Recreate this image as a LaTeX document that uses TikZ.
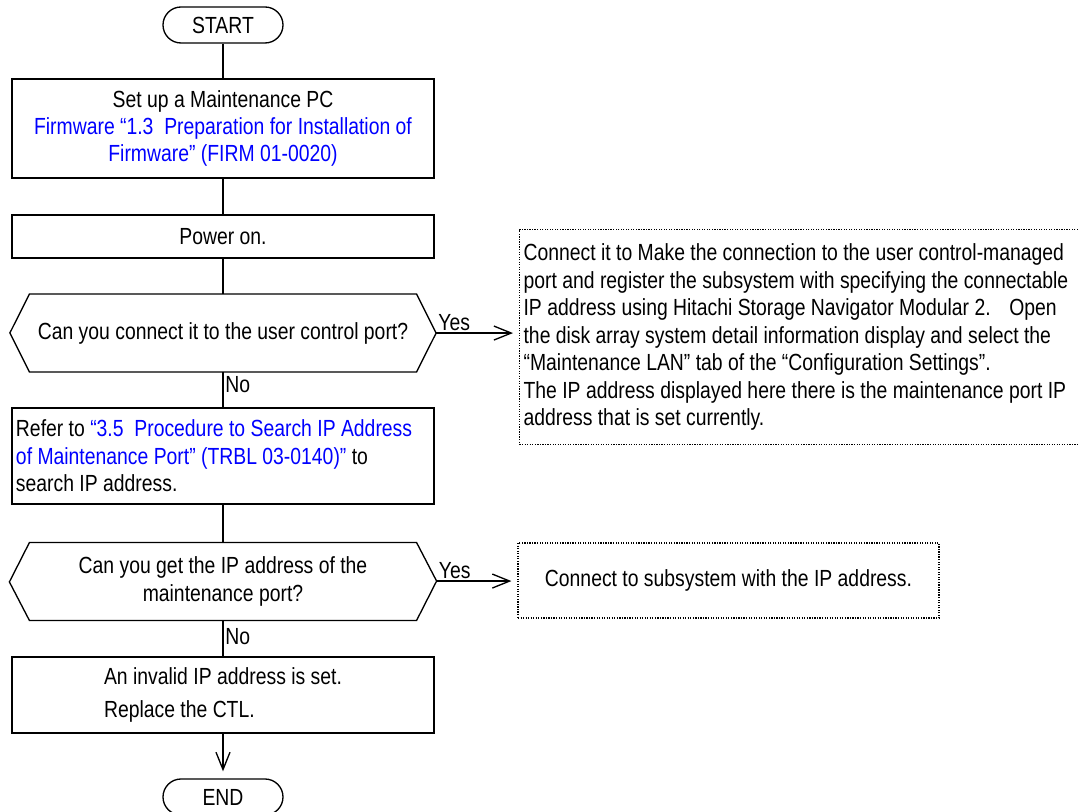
\documentclass[tikz,border=0pt]{standalone}
\usepackage{fontspec}
\setmainfont{Liberation Sans}[FakeStretch=0.83]
\usepackage{xcolor}
\usepackage{tikz}
\usetikzlibrary{arrows.meta,shapes.misc,calc}
\definecolor{refBlue}{RGB}{0,0,255}

\begin{document}
\begin{tikzpicture}[x=0.75pt,y=-0.75pt,
    flow/.style={line width=1pt},
    txt/.style={font=\fontsize{17.5}{20.6}\selectfont, inner sep=3pt},
    terminal/.style={txt, draw, flow, rounded rectangle, minimum width=96pt, minimum height=27pt},
    procbox/.style={txt, draw, flow, minimum width=316.5pt},
    decbox/.style={txt, minimum width=290pt, minimum height=58pt, align=center},
    notebox/.style={txt, draw, line width=0.9pt, densely dotted},
    yesno/.style={font=\fontsize{17.5}{20.6}\selectfont, inner sep=1.2pt},
    tip/.style={-{Straight Barb[length=13pt,width=10.5pt,line width=1pt]}}]
    \useasboundingbox (0,0) rectangle (1078,812);

    \node[terminal] (start) at (223,25) {START};
    \node[procbox, minimum height=74.25pt, align=center] (setup) at (223,128.5)
        {Set up a Maintenance PC\\
         \textcolor{refBlue}{Firmware “1.3~~Preparation for Installation of}\\
         \textcolor{refBlue}{Firmware” (FIRM 01-0020)}};
    \node[procbox, minimum height=32.25pt] (power) at (223,236.5) {Power on.};
    \node[decbox] (ask1) at (223,333) {Can you connect it to the user control port?};
    \node[procbox, minimum height=72pt, text width=310.5pt, align=flush left] (refer) at (223,456)
        {Refer to \textcolor{refBlue}{“3.5~~Procedure to Search IP Address}\\
         \textcolor{refBlue}{of Maintenance Port” (TRBL 03-0140)”} to\\
         search IP address.};
    \node[decbox] (ask2) at (223,581.5) {Can you get the IP address of the\\ maintenance port?};
    \node[procbox, minimum height=57pt, align=flush left] (ctl) at (223,695)
        {An invalid IP address is set.\\[4.2pt] Replace the CTL.};
    \node[terminal] (end) at (223,797) {END};

    \node[notebox, anchor=north west, text width=440pt, minimum height=161.25pt, align=flush left] (note1) at (519,229)
        {Connect it to Make the connection to the user control-managed\\
         port and register the subsystem with specifying the connectable\\
         IP address using Hitachi Storage Navigator Modular 2.\hspace{14pt}Open\\
         the disk array system detail information display and select the\\
         “Maintenance LAN” tab of the “Configuration Settings”.\\
         The IP address displayed here there is the maintenance port IP\\
         address that is set currently.};
    \node[notebox, minimum width=315.75pt, minimum height=56.25pt] (note2) at (728.5,580.5)
        {Connect to subsystem with the IP address.};

    \draw[flow] (ask1.north west) -- (ask1.north east) -- ++(19.5,39) coordinate (ask1r)
        -- (ask1.south east) -- (ask1.south west) -- ++(-19.5,-39) -- cycle;
    \draw[flow] (ask2.north west) -- (ask2.north east) -- ++(20,38.5) coordinate (ask2r)
        -- (ask2.south east) -- (ask2.south west) -- ++(-20,-38.5) -- cycle;

    \draw[flow] (start.south) -- (setup.north);
    \draw[flow] (setup.south) -- (power.north);
    \draw[flow] (power.south) -- (ask1.north);
    \draw[flow] (ask1.south) -- node[yesno, right, pos=0.36] {No} (refer.north);
    \draw[flow] (refer.south) -- (ask2.north);
    \draw[flow] (ask2.south) -- node[yesno, right, pos=0.46] {No} (ctl.north);
    \draw[flow, tip, shorten >=5.25pt] (ctl.south) -- (end.north);
    \draw[flow, tip, shorten >=4.5pt] (ask1r) -- node[yesno, above right, pos=0] {Yes} (ask1r -| note1.west);
    \draw[flow, tip, shorten >=4.5pt] (ask2r) -- node[yesno, above right, pos=0] {Yes} (ask2r -| note2.west);
\end{tikzpicture}
\end{document}
